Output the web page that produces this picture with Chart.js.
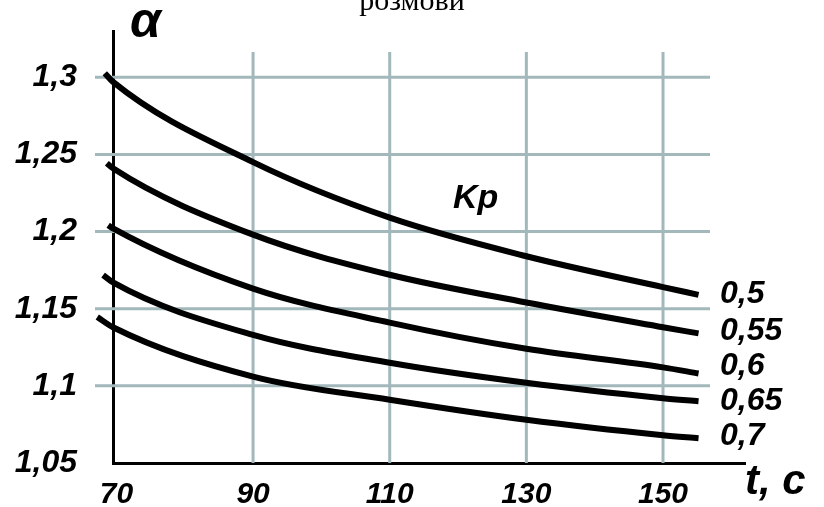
<!DOCTYPE html>
<html>
<head>
<meta charset="utf-8">
<title>α(t, Kp)</title>
<script src="https://cdn.jsdelivr.net/npm/chart.js@4.4.1/dist/chart.umd.min.js"></script>
<style>
  body { margin: 0; background: #fff; }
  canvas { display: block; }
</style>
</head>
<body>
<canvas id="myChart" width="824" height="507"></canvas>
<script>
// values
const kpLabels = ['0,5', '0,55', '0,6', '0,65', '0,7'];
const xTicks = [70, 90, 110, 130, 150];
const yTicks = [1.05, 1.1, 1.15, 1.2, 1.25, 1.3];

// t points where the curves were read (axis crossing, grid lines, right end)
const tPoints = [69.5, 90, 110, 130, 150, 155.2];
const alpha05 = [1.297, 1.245, 1.209, 1.184, 1.164, 1.159];
const alpha055 = [1.241, 1.198, 1.172, 1.154, 1.138, 1.134];
const alpha06 = [1.202, 1.163, 1.141, 1.124, 1.112, 1.108];
const alpha065 = [1.167, 1.133, 1.115, 1.102, 1.092, 1.090];
const alpha07 = [1.138, 1.106, 1.091, 1.078, 1.068, 1.066];

// the curves start a little left of the y axis
const startT = [68.3, 68.6, 68.8, 68.05, 67.2];
const startAlpha = [1.3026, 1.2443, 1.2041, 1.1718, 1.1446];

const allSeries = [alpha05, alpha055, alpha06, alpha065, alpha07];
const labelBaselines = [303, 340, 375, 410, 445];

const FONT = "'Liberation Sans', Arial, sans-serif";
const GRID_COLOR = '#a3b8bb';

function comma(v) {
    return String(v).replace('.', ',');
}

const datasets = allSeries.map(function(series, i) {
    const pts = [{ x: startT[i], y: startAlpha[i] }];
    tPoints.forEach(function(t, j) {
        pts.push({ x: t, y: series[j] });
    });
    return {
        label: kpLabels[i],
        data: pts,
        showLine: true,
        borderColor: '#000',
        borderWidth: 6,
        pointRadius: 0,
        cubicInterpolationMode: 'monotone',
        clip: false
    };
});

// grid drawn by hand: lines stick out past the axis like in the original
const gridPlugin = {
    id: 'handGrid',
    beforeDatasetsDraw(chart) {
        const ctx = chart.ctx;
        const xs = chart.scales.x;
        const ys = chart.scales.y;
        const area = chart.chartArea;
        ctx.save();
        ctx.strokeStyle = GRID_COLOR;
        ctx.lineWidth = 3;
        yTicks.forEach(function(v) {
            if (v === yTicks[0]) return;
            const y = ys.getPixelForValue(v);
            ctx.beginPath();
            ctx.moveTo(95, y);
            ctx.lineTo(710, y);
            ctx.stroke();
        });
        xTicks.forEach(function(v) {
            if (v === xTicks[0]) return;
            const x = xs.getPixelForValue(v);
            ctx.beginPath();
            ctx.moveTo(x, 52);
            ctx.lineTo(x, area.bottom);
            ctx.stroke();
        });
        ctx.restore();
    }
};

const textPlugin = {
    id: 'extraText',
    afterDraw(chart) {
        const ctx = chart.ctx;
        ctx.save();
        ctx.fillStyle = '#000';
        ctx.textBaseline = 'alphabetic';

        ctx.textAlign = 'center';
        ctx.font = "30px 'Liberation Serif', 'Times New Roman', serif";
        ctx.fillText('розмови', 412, 10);

        ctx.textAlign = 'left';
        ctx.font = 'italic bold 50px ' + FONT;
        ctx.fillText('α', 130, 37);

        ctx.font = 'italic bold 34px ' + FONT;
        ctx.fillText('Kp', 453, 208);

        ctx.font = 'italic bold 42px ' + FONT;
        ctx.fillText('t, c', 745, 494);

        ctx.font = 'italic bold 32px ' + FONT;
        kpLabels.forEach(function(lbl, i) {
            ctx.fillText(lbl, 720, labelBaselines[i]);
        });
        ctx.restore();
    }
};

new Chart(document.getElementById('myChart'), {
    type: 'scatter',
    data: { datasets: datasets },
    plugins: [gridPlugin, textPlugin],
    options: {
        responsive: false,
        animation: false,
        layout: {
            padding: { top: 31, right: 79, left: 0, bottom: 0 }
        },
        plugins: {
            legend: { display: false },
            tooltip: { enabled: false },
            title: { display: false }
        },
        scales: {
            x: {
                type: 'linear',
                min: 69.5,
                max: 162,
                afterBuildTicks: function(scale) {
                    scale.ticks = xTicks.map(function(v) { return { value: v }; });
                },
                afterFit: function(scale) {
                    scale.height = 44;
                    scale.paddingLeft = 0;
                    scale.paddingRight = 0;
                },
                grid: { display: false, drawTicks: false },
                border: { display: true, color: '#000', width: 3 },
                ticks: {
                    padding: 14,
                    color: '#000',
                    font: { family: FONT, size: 30, style: 'italic', weight: 'bold' },
                    callback: function(v) { return comma(v); }
                }
            },
            y: {
                type: 'linear',
                min: 1.05,
                max: 1.33,
                afterBuildTicks: function(scale) {
                    scale.ticks = yTicks.map(function(v) { return { value: v }; });
                },
                afterFit: function(scale) {
                    scale.width = 113;
                    scale.paddingTop = 0;
                    scale.paddingBottom = 0;
                },
                grid: { display: false, drawTicks: false },
                border: { display: true, color: '#000', width: 3 },
                ticks: {
                    padding: 36,
                    color: '#000',
                    font: { family: FONT, size: 32, style: 'italic', weight: 'bold' },
                    callback: function(v) { return comma(v); }
                }
            }
        }
    }
});
</script>
</body>
</html>
